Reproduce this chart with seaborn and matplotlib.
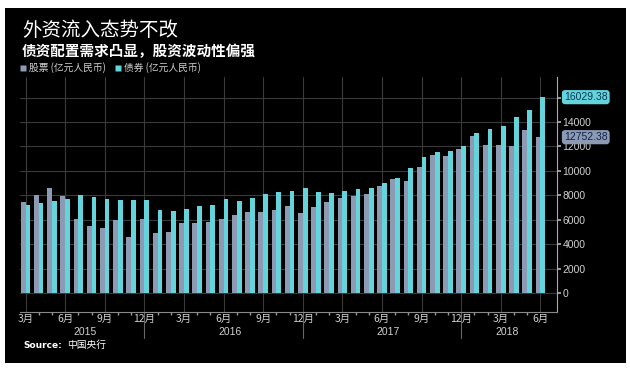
import matplotlib
matplotlib.use("Agg")
import matplotlib.pyplot as plt
import matplotlib.transforms as mtrans
from matplotlib import font_manager
from matplotlib.lines import Line2D
from matplotlib.patches import Rectangle
import seaborn as sns
import pandas as pd

# ---------------- data ----------------
periods = [f"{y}-{m:02d}" for y in range(2015, 2019) for m in range(1, 13)
           if (y, m) >= (2015, 3) and (y, m) <= (2018, 6)]
stock = [7410, 8010, 8560, 7900, 6020, 5520, 5300, 5960, 4620, 6020,
         4890, 4970, 5740, 5740, 5800, 6040, 6370, 6640, 6590, 6760,
         7110, 6510, 7020, 7440, 7790, 7930, 8090, 8720, 9300, 9130,
         10280, 11260, 11210, 11800, 12870, 12110, 12080, 12030, 13310, 12752.38]
bond = [7160, 7380, 7490, 7680, 8030, 7820, 7680, 7600, 7650, 7570,
        6780, 6700, 6860, 7080, 7210, 7680, 7540, 7760, 8090, 8230,
        8360, 8560, 8230, 8170, 8340, 8530, 8580, 8970, 9380, 10200,
        11100, 11560, 11620, 12020, 13060, 13400, 13690, 14400, 14980, 16029.38]
series_names = ["股票 (亿元人民币)", "债券 (亿元人民币)"]
month_tick_labels = ["3月", "6月", "9月", "12月"]
years = ["2015", "2016", "2017", "2018"]
yticks = [0, 2000, 4000, 6000, 8000, 10000, 12000, 14000, 16000]

title = "外资流入态势不改"
subtitle = "债资配置需求凸显，股资波动性偏强"
source_label = "Source:"
source_text = "中国央行"

GREY = "#8c9ab4"
CYAN = "#63d3dc"
TXT = "#d0d0d0"
GRID = "#3a3a3a"

df = pd.DataFrame({
    "period": periods * 2,
    "value": stock + bond,
    "series": [series_names[0]] * len(stock) + [series_names[1]] * len(bond),
})

# ---------------- fonts ----------------
avail = {f.name for f in font_manager.fontManager.ttflist}
CJK = ["Noto Sans CJK SC", "DejaVu Sans"]
NARROW = "Liberation Sans Narrow" if "Liberation Sans Narrow" in avail else "Liberation Sans"

sns.set_theme(style="dark")
plt.rcParams["font.family"] = CJK

W, H = 630, 370
fig = plt.figure(figsize=(W / 100, H / 100), dpi=100, facecolor="white")
fig.patches.append(Rectangle((5 / W, 1 - 363 / H), 621 / W, 355 / H,
                             transform=fig.transFigure, facecolor="black",
                             edgecolor="none", zorder=-10))

ax = fig.add_axes([20 / W, 1 - 312 / H, 537 / W, 235 / H])
ax.set_facecolor("black")

sns.barplot(data=df, x="period", y="value", hue="series", order=periods,
            hue_order=series_names, palette=[GREY, CYAN], saturation=1,
            width=0.72, ax=ax, legend=False, zorder=3, linewidth=0)

ax.set_xlim(-0.42, 40.26)
ax.set_ylim(-1560, 17680)

# y axis on right
ax.yaxis.tick_right()
ax.set_yticks(yticks)
ax.set_yticklabels([f"{v}" if v < 16000 else "" for v in yticks],
                   fontsize=7.5, color=TXT, family=NARROW)
ax.tick_params(axis="y", which="major", direction="out", length=3,
               color="#aaaaaa", pad=1, right=True, left=False)

# x ticks every 3 months
n = len(periods)
major_pos = list(range(0, n, 3))
ax.set_xticks(major_pos)
ax.set_xticklabels([month_tick_labels[i % 4] for i in range(len(major_pos))],
                   fontsize=7.5, color=TXT)
ax.set_xticks(range(n), minor=True)
ax.tick_params(axis="x", which="major", length=0, pad=1.5)
ax.tick_params(axis="x", which="minor", direction="out", length=2,
               color="#999999", bottom=True)
ax.set_xlabel("")
ax.set_ylabel("")

ax.grid(True, axis="both", which="major", color=GRID, linewidth=0.8, zorder=0)
for s in ["top", "left"]:
    ax.spines[s].set_visible(False)
ax.spines["right"].set_color("#aaaaaa")
ax.spines["bottom"].set_color("#888888")
ax.spines["right"].set_linewidth(0.8)
ax.spines["bottom"].set_linewidth(0.8)

# year dividers and labels
trans = mtrans.blended_transform_factory(ax.transData, ax.transAxes)
for idx in [9, 21, 33]:
    ax.plot([idx, idx], [0, -0.11], transform=trans, color="#666666",
            linewidth=0.8, clip_on=False)
year_ranges = [(0, 9), (10, 21), (22, 33), (34, 39)]
for yl, (a, b) in zip(years, year_ranges):
    ax.text((a + b) / 2, -0.085, yl, transform=trans, ha="center", va="center",
            fontsize=7.5, color=TXT, family=NARROW)

# last-value labels
for val, fc, tc in [(bond[-1], CYAN, "#0b3a55"), (stock[-1], GREY, "#10224a")]:
    ax.annotate(f"{val:.2f}", xy=(1, val), xycoords=("axes fraction", "data"),
                xytext=(5, 0), textcoords="offset points", va="center", ha="left",
                fontsize=7.5, color=tc, family=NARROW,
                bbox=dict(boxstyle="round,pad=0.2,rounding_size=0.3", fc=fc, ec="none"))

# titles
fig.text(22 / W, 1 - 31 / H, title, fontsize=14, color="white", va="center", ha="left")
fig.text(22 / W, 1 - 51 / H, subtitle, fontsize=10.5, color="white",
         fontweight="bold", va="center", ha="left")

# legend
handles = [Line2D([], [], marker="s", linestyle="none", markersize=4.5,
                  markerfacecolor=c, markeredgecolor="none") for c in [GREY, CYAN]]
leg = fig.legend(handles, series_names, loc="center left",
                 bbox_to_anchor=(20 / W, 1 - 68 / H), ncol=2, frameon=False,
                 fontsize=7, handlelength=0.6, handletextpad=0.3,
                 columnspacing=1.0, borderaxespad=0, borderpad=0)
for t in leg.get_texts():
    t.set_color(TXT)

# source
src = fig.text(23 / W, 1 - 345 / H, source_label, fontsize=6.5, color="white",
               fontweight="bold", va="center", ha="left", family=["DejaVu Sans"])
ax.annotate(source_text, xy=(1, 0.5), xycoords=src, xytext=(4, 0),
            textcoords="offset points", fontsize=7, color="white",
            va="center", ha="left", annotation_clip=False)

fig.savefig("out.png", dpi=100, facecolor="white")
